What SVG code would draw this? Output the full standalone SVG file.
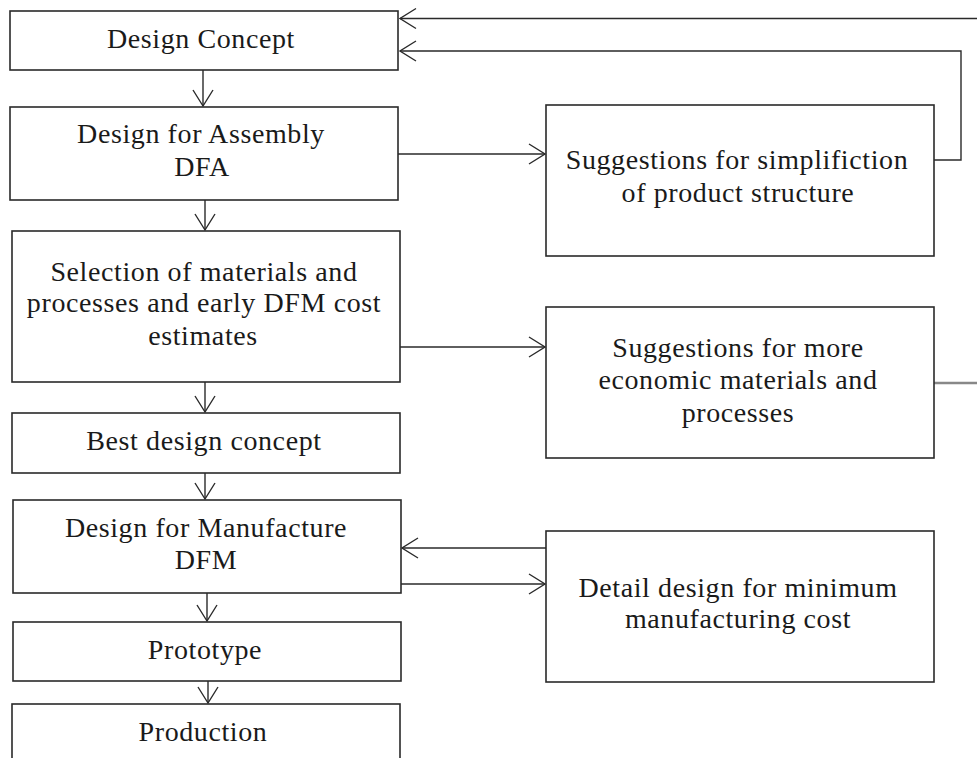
<svg xmlns="http://www.w3.org/2000/svg" width="977" height="758" viewBox="0 0 977 758">
<style>
.box{fill:#fff;stroke:#2a2a2a;stroke-width:1.6}
.t{font-family:"Liberation Serif","Times New Roman",serif;font-size:28px;letter-spacing:0.6px;fill:#1a1a1a;text-anchor:middle}
.c{fill:none;stroke:#2a2a2a;stroke-width:1.4}
</style>
<defs>
<marker id="ah" markerUnits="userSpaceOnUse" viewBox="-18 -12 20 24" refX="0" refY="0" markerWidth="20" markerHeight="24" orient="auto">
<path d="M-16,-10 L0,0 L-16,10" fill="none" stroke="#2a2a2a" stroke-width="1.4"/>
</marker>
</defs>
<rect width="977" height="758" fill="#fff"/>
<g id="connectors">
<line class="c" x1="203" y1="70" x2="203" y2="106" marker-end="url(#ah)"/>
<line class="c" x1="205" y1="200" x2="205" y2="230" marker-end="url(#ah)"/>
<line class="c" x1="205" y1="382" x2="205" y2="412" marker-end="url(#ah)"/>
<line class="c" x1="205" y1="473" x2="205" y2="499" marker-end="url(#ah)"/>
<line class="c" x1="207" y1="593" x2="207" y2="621" marker-end="url(#ah)"/>
<line class="c" x1="208" y1="677" x2="208" y2="703" marker-end="url(#ah)"/>
<line class="c" x1="398" y1="154" x2="545" y2="154" marker-end="url(#ah)"/>
<line class="c" x1="400" y1="347" x2="545" y2="347" marker-end="url(#ah)"/>
<line class="c" x1="401" y1="584" x2="545" y2="584" marker-end="url(#ah)"/>
<line class="c" x1="546" y1="548" x2="402" y2="548" marker-end="url(#ah)"/>
<line class="c" x1="977" y1="18.5" x2="400" y2="18.5" marker-end="url(#ah)"/>
<polyline class="c" points="934,160 961,160 961,51 400,51" marker-end="url(#ah)"/>
<line x1="934" y1="383" x2="977" y2="383" stroke="#888" stroke-width="2.6"/>
</g>
<g id="n1"><rect class="box" x="10" y="11" width="388" height="59"/><text class="t" x="201" y="48">Design Concept</text></g>
<g id="n2"><rect class="box" x="10" y="107" width="388" height="93"/><text class="t" x="201" y="143">Design for Assembly</text><text class="t" x="202" y="176">DFA</text></g>
<g id="n3"><rect class="box" x="12" y="231" width="388" height="151"/><text class="t" x="204" y="281">Selection of materials and</text><text class="t" x="204" y="312">processes and early DFM cost</text><text class="t" x="203" y="345">estimates</text></g>
<g id="n4"><rect class="box" x="12" y="413" width="388" height="60"/><text class="t" x="204" y="450">Best design concept</text></g>
<g id="n5"><rect class="box" x="13" y="500" width="388" height="93"/><text class="t" x="206" y="537">Design for Manufacture</text><text class="t" x="206" y="569">DFM</text></g>
<g id="n6"><rect class="box" x="13" y="622" width="388" height="59"/><text class="t" x="205" y="659">Prototype</text></g>
<g id="n7"><rect class="box" x="12" y="704" width="388" height="70"/><text class="t" x="203" y="741">Production</text></g>
<g id="r1"><rect class="box" x="546" y="105" width="388" height="151"/><text class="t" x="737" y="169">Suggestions for simplifiction</text><text class="t" x="738" y="202">of product structure</text></g>
<g id="r2"><rect class="box" x="546" y="307" width="388" height="151"/><text class="t" x="738" y="357">Suggestions for more</text><text class="t" x="738" y="389">economic materials and</text><text class="t" x="738" y="422">processes</text></g>
<g id="r3"><rect class="box" x="546" y="531" width="388" height="151"/><text class="t" x="738" y="597">Detail design for minimum</text><text class="t" x="738" y="628">manufacturing cost</text></g>
</svg>
